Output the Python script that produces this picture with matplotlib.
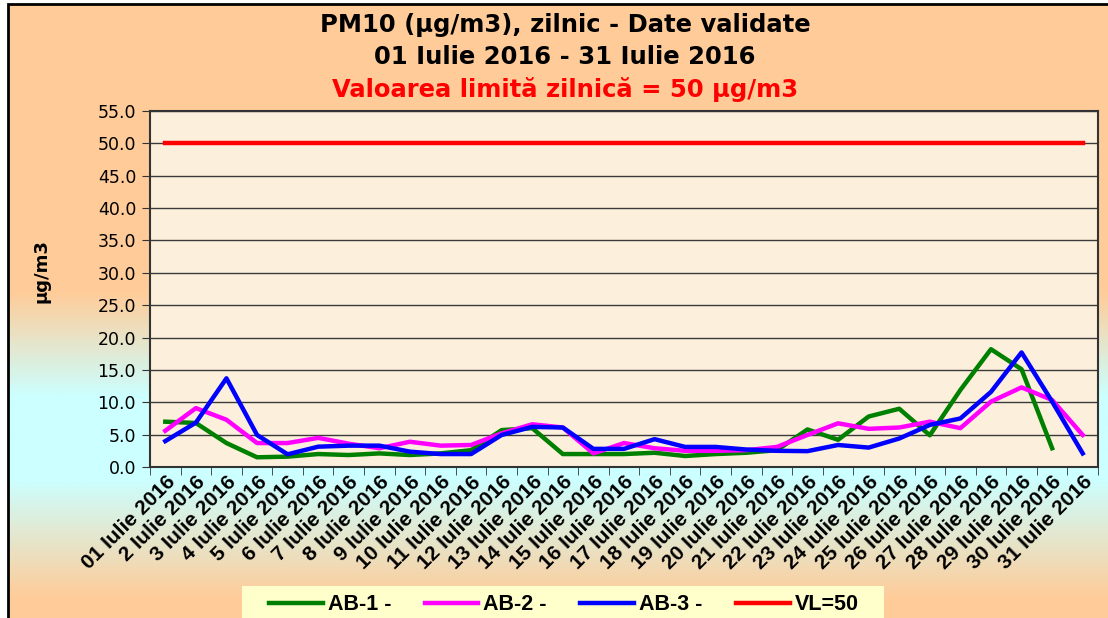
import numpy as np
import matplotlib
matplotlib.use("Agg")
import matplotlib.pyplot as plt
from matplotlib.colors import LinearSegmentedColormap
from matplotlib.patches import Rectangle

# data (ug/m3, daily)
days = np.arange(1, 32)
day_labels = ["01 Iulie 2016"] + ["%d Iulie 2016" % d for d in range(2, 32)]

ab1 = [7.0, 6.8, 3.7, 1.5, 1.6, 2.0, 1.85, 2.1, 1.85, 2.1, 2.6, 5.7, 6.0, 2.0, 2.0,
       2.0, 2.2, 1.7, 2.0, 2.2, 2.6, 5.8, 4.2, 7.8, 9.0, 4.9, 11.9, 18.2, 15.1, 2.9, np.nan]
ab2 = [5.6, 9.1, 7.3, 3.7, 3.7, 4.5, 3.6, 2.9, 3.9, 3.3, 3.4, 5.2, 6.6, 6.1, 2.1,
       3.7, 2.9, 2.5, 2.5, 2.6, 3.1, 4.95, 6.75, 5.9, 6.1, 7.0, 6.0, 10.1, 12.3, 10.35, 4.95]
ab3 = [4.0, 6.85, 13.7, 4.95, 1.96, 3.14, 3.3, 3.3, 2.37, 2.0, 2.0, 4.95, 6.2, 6.1, 2.8,
       2.8, 4.3, 3.1, 3.1, 2.7, 2.5, 2.45, 3.4, 3.0, 4.4, 6.5, 7.5, 11.6, 17.7, 10.1, 2.1]
vl = [50.0] * 31

W, H = 1108, 618
fig = plt.figure(figsize=(W / 100, H / 100), dpi=100, facecolor="white")

# background gradient (peach -> cyan -> peach)
bg = fig.add_axes([8 / W, 0, 1 - 8 / W, 1 - 4 / H], zorder=-10)
peach = "#FFCC99"
cyan = "#CCFFFF"
cmap = LinearSegmentedColormap.from_list(
    "bg", [(0, peach), (290 / 618, peach), (395 / 618, cyan), (480 / 618, cyan),
           (600 / 618, peach), (1, peach)])
grad = np.linspace(0, 1, 400).reshape(-1, 1)
bg.imshow(grad, aspect="auto", cmap=cmap, extent=[0, 1, 1, 0])
bg.set_xlim(0, 1)
bg.set_ylim(1, 0)
bg.axis("off")
bg.add_patch(Rectangle((0, -0.2), 1.2, 1.2, fill=False, edgecolor="black", lw=2,
                       transform=bg.transAxes, clip_on=False))

# legend background box
fig.patches.append(Rectangle((242 / W, -0.01), (884 - 242) / W, (618 - 586) / H + 0.01,
                             transform=fig.transFigure, facecolor="#FFFFCC",
                             edgecolor="none", zorder=-5))

ax = fig.add_axes([150 / W, 1 - 467 / H, (1098 - 150) / W, (467 - 111) / H])
ax.set_facecolor("#FCF0DC")

ax.plot(days, ab1, color="#008000", lw=3.2, label="AB-1 -")
ax.plot(days, ab2, color="#FF00FF", lw=3.2, label="AB-2 -")
ax.plot(days, ab3, color="#0000FF", lw=3.2, label="AB-3 -")
ax.plot(days, vl, color="#FF0000", lw=3.2, label="VL=50")

ax.set_xlim(0.5, 31.5)
ax.set_ylim(0, 55)
ax.set_yticks(np.arange(0, 55.1, 5))
ax.set_yticklabels(["%.1f" % v for v in np.arange(0, 55.1, 5)],
                   fontsize=12.5, family="DejaVu Sans")
ax.yaxis.grid(True, color="#3a3a3a", lw=1)
ax.set_axisbelow(True)

ax.set_xticks(days)
ax.set_xticklabels(day_labels, rotation=45, ha="right", va="top",
                   rotation_mode="anchor", fontsize=15, fontweight="bold",
                   family="Liberation Sans")
ax.set_xticks(np.arange(0.5, 31.6, 1), minor=True)
ax.tick_params(axis="x", which="major", length=0, pad=4)
ax.tick_params(axis="x", which="minor", length=6, direction="out", color="#333333")
ax.tick_params(axis="y", length=6, direction="out", color="#333333", pad=4)
for s in ax.spines.values():
    s.set_color("#333333")
    s.set_linewidth(1.5)

ax.set_ylabel("µg/m3", fontsize=13, fontweight="bold")
ax.yaxis.set_label_coords(-99 / 948, 0.55)

fig.text(565 / W, 1 - 25 / H, "PM10 (µg/m3), zilnic - Date validate",
         ha="center", va="center", fontsize=17.5, fontweight="bold")
fig.text(565 / W, 1 - 57 / H, "01 Iulie 2016 - 31 Iulie 2016",
         ha="center", va="center", fontsize=17.5, fontweight="bold")
fig.text(565 / W, 1 - 90 / H, "Valoarea limită zilnică = 50 µg/m3",
         ha="center", va="center", fontsize=17.5, fontweight="bold", color="#FF0000")

leg = fig.legend(loc="center left", bbox_to_anchor=(269 / W, 1 - 605 / H), ncol=4,
                 frameon=False, handlelength=2.5, handletextpad=0.23, columnspacing=1.55,
                 prop={"family": "Liberation Sans", "weight": "bold", "size": 15.5},
                 borderpad=0, borderaxespad=0)

fig.savefig("out.png", dpi=100, facecolor=fig.get_facecolor())
